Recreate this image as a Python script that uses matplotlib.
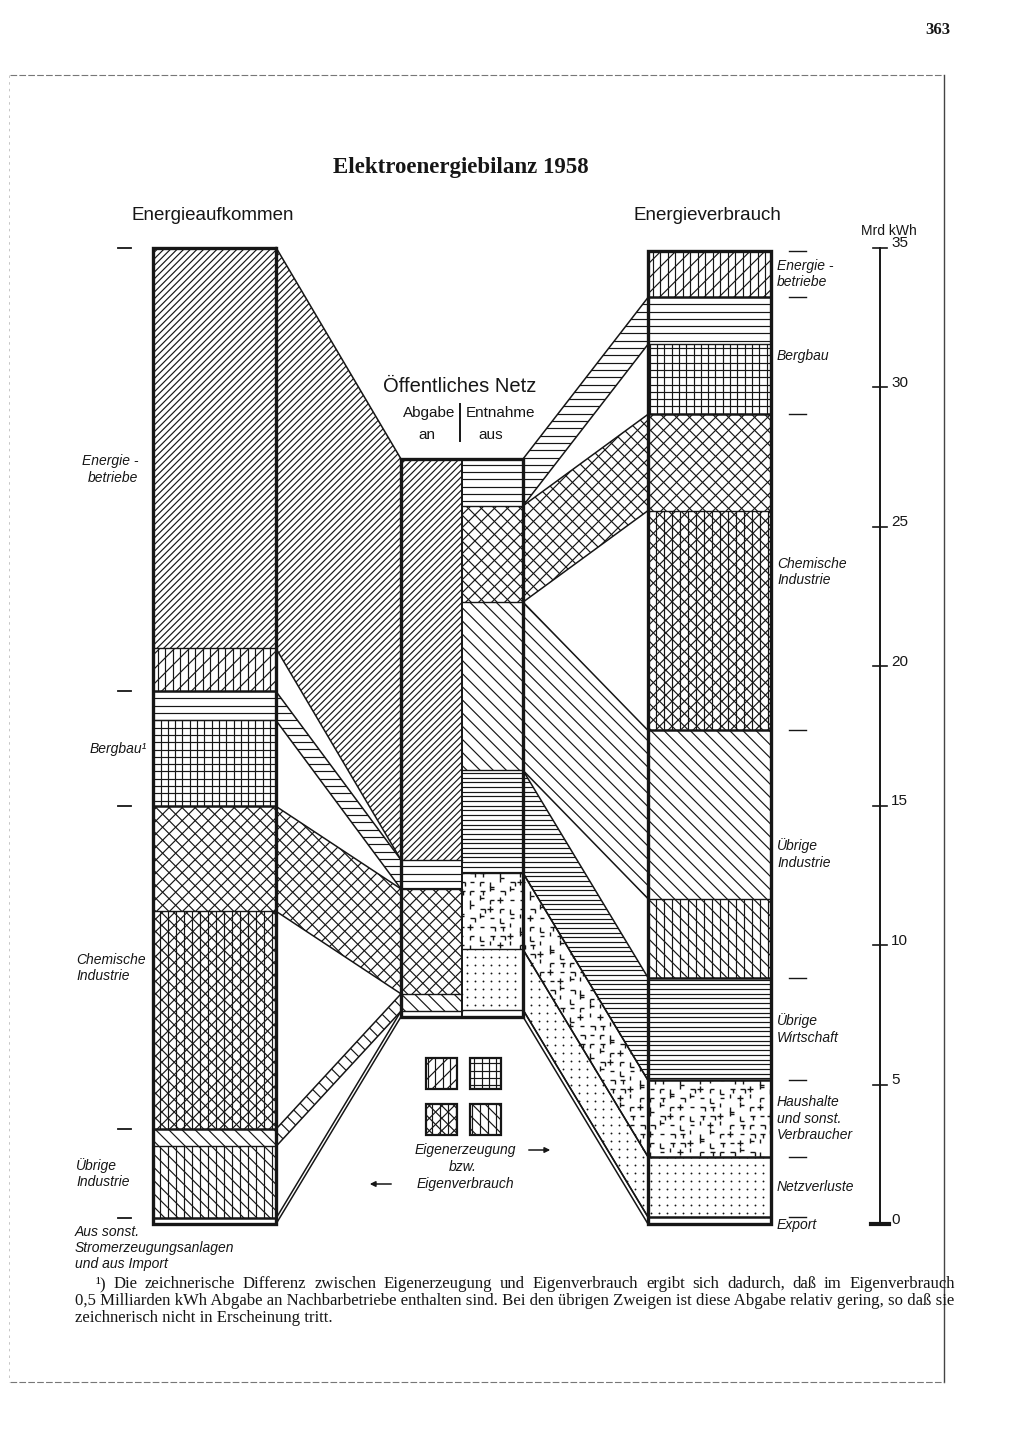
import numpy as np
import matplotlib
matplotlib.use("Agg")
import matplotlib.pyplot as plt
from matplotlib import font_manager
from matplotlib.patches import Polygon, Rectangle
from matplotlib.collections import LineCollection

quellen = ["Energiebetriebe", "Bergbau", "Chemische Industrie",
           "Übrige Industrie", "Sonstige/Import"]
abgabe = [14.37, 1.04, 3.76, 0.62, 0.20]          # ans öffentliche Netz
eigenerzeugung = [1.54, 3.08, 7.81, 2.58, 0.0]

verbraucher = ["Energiebetriebe", "Bergbau", "Chemische Industrie",
               "Übrige Industrie", "Übrige Wirtschaft", "Haushalte",
               "Netzverluste", "Export"]
entnahme = [0.0, 1.68, 3.45, 6.03, 3.68, 2.74, 2.16, 0.25]   # aus dem Netz
eigenverbrauch = [1.68, 2.51, 7.88, 2.83, 0.0, 0.0, 0.0, 0.0]

skala = [0, 5, 10, 15, 20, 25, 30, 35]

links_text = ["Energie -\nbetriebe", "Bergbau¹", "Chemische\nIndustrie",
              "Übrige\nIndustrie", "Aus sonst.\nStromerzeugungsanlagen\nund aus Import"]
rechts_text = ["Energie -\nbetriebe", "Bergbau", "Chemische\nIndustrie",
               "Übrige\nIndustrie", "Übrige\nWirtschaft",
               "Haushalte\nund sonst.\nVerbraucher", "Netzverluste", "Export"]

fussnote = [
    "¹) Die zeichnerische Differenz zwischen Eigenerzeugung und Eigenverbrauch ergibt sich dadurch, daß im Eigenverbrauch",
    "0,5 Milliarden kWh Abgabe an Nachbarbetriebe enthalten sind. Bei den übrigen Zweigen ist diese Abgabe relativ gering, so daß sie",
    "zeichnerisch nicht in Erscheinung tritt.",
]

# ---- Stil / Layout ----
muster_abgabe = ["energie", "bergbau", "chemie", "industrie", None]
muster_eigen_q = ["energie_e", "bergbau_e", "chemie_e", "industrie_e", None]
muster_entnahme = [None, "bergbau", "chemie", "industrie", "wirtschaft",
                   "haushalt", "punkte", None]
muster_eigen_v = ["energie_e", "bergbau_e", "chemie_e", "industrie_e",
                  None, None, None, None]

# (Winkel der Linien, Abstand senkrecht in px)
HATCH = {
    "energie": [(45, 4.7)],
    "energie_e": [(45, 10.5), (90, 7.5)],
    "bergbau": [(0, 7.3)],
    "bergbau_e": [(0, 7.3), (90, 7.3)],
    "chemie": [(45, 9.2), (-45, 9.2)],
    "chemie_e": [(45, 8.8), (-45, 8.8), (90, 8.0)],
    "industrie": [(-45, 9.3)],
    "industrie_e": [(-45, 9.3), (90, 8.0)],
    "wirtschaft": [(0, 4.7)],
}

INK = "#161616"
W, H = 1024, 1448
Y0 = 1224.0          # Pixelzeile des Nullpunkts
K = 27.9             # px je Mrd kWh
L0, L1 = 153, 276
M0, MM, M1 = 401, 462, 523
R0, R1 = 648, 771
NETZ_OBEN = 27.42

names = {f.name for f in font_manager.fontManager.ttflist}
SANS = "Liberation Sans" if "Liberation Sans" in names else "DejaVu Sans"
SERIF = "Liberation Serif" if "Liberation Serif" in names else "DejaVu Serif"


def ty(row):
    return (Y0 - row) / K


fig = plt.figure(figsize=(W / 100, H / 100), dpi=100)
fig.patch.set_facecolor("white")
ax = fig.add_axes([0, 0, 1, 1])
ax.set_xlim(0, W)
ax.set_ylim(ty(H), ty(0))
ax.axis("off")


def fill_pattern(patch, name, z):
    xy = patch.get_xy()
    q = np.column_stack([xy[:, 0], xy[:, 1] * K])
    if name in HATCH:
        segs = []
        for ang, sp in HATCH[name]:
            a = np.radians(ang)
            d = np.array([np.cos(a), np.sin(a)])
            n = np.array([-np.sin(a), np.cos(a)])
            pn, pd = q @ n, q @ d
            for c in np.arange(np.floor(pn.min() / sp) * sp, pn.max() + sp, sp):
                p0 = c * n + (pd.min() - 3) * d
                p1 = c * n + (pd.max() + 3) * d
                segs.append([(p0[0], p0[1] / K), (p1[0], p1[1] / K)])
        lc = LineCollection(segs, colors=INK, linewidths=0.85, zorder=z + 0.1)
        ax.add_collection(lc)
        lc.set_clip_path(patch)
    elif name == "punkte":
        xs = np.arange(np.floor(q[:, 0].min() / 8) * 8, q[:, 0].max() + 8, 8)
        ys = np.arange(np.floor(q[:, 1].min() / 8) * 8, q[:, 1].max() + 8, 8)
        gx, gy = np.meshgrid(xs + 3, ys + 3)
        sc = ax.scatter(gx.ravel(), gy.ravel() / K, s=1.8, color=INK,
                        linewidths=0, zorder=z + 0.1)
        sc.set_clip_path(patch)
    elif name == "haushalt":
        formen = [
            [((0, 0), (5, 0)), ((5, 0), (5, -4))],
            [((0, 0), (0, -5)), ((0, -5), (4, -5))],
            [((-3, 0), (3, 0)), ((0, 3), (0, -3))],
            [((0, 0), (5, 0)), ((2.5, 0), (2.5, -4))],
            [((0, 0), (0, 5)), ((0, 2.5), (4, 2.5))],
            [((0, 0), (4, 0))],
            [((0, 0), (0, 4))],
            [((0, 0), (4, 0)), ((0, 0), (0, -4))],
        ]
        sx, sy = 10.0, 9.0
        segs = []
        for i, x in enumerate(np.arange(np.floor(q[:, 0].min() / sx) * sx, q[:, 0].max() + sx, sx)):
            for j, y in enumerate(np.arange(np.floor(q[:, 1].min() / sy) * sy, q[:, 1].max() + sy, sy)):
                f = formen[(3 * i + 5 * j + (i * j) % 3) % len(formen)]
                for (a0, a1), (b0, b1) in f:
                    segs.append([(x + a0, (y + a1) / K), (x + b0, (y + b1) / K)])
        lc = LineCollection(segs, colors=INK, linewidths=1.0, zorder=z + 0.1)
        ax.add_collection(lc)
        lc.set_clip_path(patch)


def region(xy, name, z):
    patch = Polygon(xy, closed=True, facecolor="white", edgecolor="none", zorder=z)
    ax.add_patch(patch)
    if name:
        fill_pattern(patch, name, z)
    return patch


def link(xa, ta, ba, xb, tb, bb, name):
    region([(xa, ta), (xb, tb), (xb, bb), (xa, ba)], name, 1)
    ax.plot([xa, xb], [ta, tb], color=INK, lw=1.1, zorder=1.5)
    ax.plot([xa, xb], [ba, bb], color=INK, lw=1.1, zorder=1.5)


def block(x0, x1, b, t, name, lw_bottom):
    region([(x0, b), (x1, b), (x1, t), (x0, t)], name, 2)
    ax.plot([x0, x1], [b, b], color=INK, lw=lw_bottom, zorder=3)


# ---- linke Säule: Energieaufkommen ----
total_l = sum(abgabe) + sum(eigenerzeugung)
cur = total_l
links_ab = []
gruppen_l = []
for i in range(len(quellen)):
    top = cur
    links_ab.append((cur, cur - abgabe[i]))
    block(L0, L1, cur - abgabe[i], cur, muster_abgabe[i],
          1.0 if eigenerzeugung[i] > 0 else 1.8)
    cur -= abgabe[i]
    if eigenerzeugung[i] > 0:
        block(L0, L1, cur - eigenerzeugung[i], cur, muster_eigen_q[i], 1.8)
        cur -= eigenerzeugung[i]
    gruppen_l.append((top, cur))
ax.add_patch(Rectangle((L0, 0), L1 - L0, total_l, fill=False, ec=INK, lw=2.4, zorder=4))

# ---- mittlere Säule: öffentliches Netz ----
cur = NETZ_OBEN
for i in range(len(quellen)):
    t, b = cur, cur - abgabe[i]
    block(M0, MM, b, t, muster_abgabe[i], 1.0)
    link(L1, links_ab[i][0], links_ab[i][1], M0, t, b, muster_abgabe[i])
    cur = b
netz_unten_l = cur

cur = NETZ_OBEN
netz_ent = []
for i in range(len(verbraucher)):
    if entnahme[i] <= 0:
        netz_ent.append(None)
        continue
    t, b = cur, cur - entnahme[i]
    block(MM, M1, b, t, muster_entnahme[i], 1.0)
    netz_ent.append((t, b))
    cur = b
netz_unten = min(cur, netz_unten_l)
ax.add_patch(Rectangle((M0, netz_unten), M1 - M0, NETZ_OBEN - netz_unten,
                       fill=False, ec=INK, lw=2.4, zorder=4))
ax.plot([MM, MM], [netz_unten, NETZ_OBEN], color=INK, lw=1.4, zorder=4)

# ---- rechte Säule: Energieverbrauch ----
total_r = sum(entnahme) + sum(eigenverbrauch)
cur = total_r
gruppen_r = []
for i in range(len(verbraucher)):
    top = cur
    if entnahme[i] > 0:
        t, b = cur, cur - entnahme[i]
        block(R0, R1, b, t, muster_entnahme[i], 1.0 if eigenverbrauch[i] > 0 else 1.8)
        link(M1, netz_ent[i][0], netz_ent[i][1], R0, t, b, muster_entnahme[i])
        cur = b
    if eigenverbrauch[i] > 0:
        block(R0, R1, cur - eigenverbrauch[i], cur, muster_eigen_v[i], 1.8)
        cur -= eigenverbrauch[i]
    gruppen_r.append((top, cur))
ax.add_patch(Rectangle((R0, 0), R1 - R0, total_r, fill=False, ec=INK, lw=2.4, zorder=4))

# ---- Grenzstriche und Beschriftungen ----
for t, b in gruppen_l:
    ax.plot([118, 131], [t, t], color=INK, lw=1.3)
for t, b in gruppen_r:
    ax.plot([789, 806], [t, t], color=INK, lw=1.0)

lab = dict(family=SANS, style="italic", fontsize=10, color=INK, linespacing=1.2)
for (t, b), txt, x in zip(gruppen_l[1:-1], links_text[1:-1], [90, 76, 76]):
    ax.text(x, (t + b) / 2, txt, ha="left", va="center", **lab)
t, b = gruppen_l[0]
ax.text(138, (t + b) / 2, links_text[0], ha="right", va="center",
        multialignment="right", **lab)
ax.text(75, gruppen_l[-1][1] - 0.02, links_text[-1], ha="left", va="top", **lab)
for k, ((t, b), txt) in enumerate(zip(gruppen_r, rechts_text)):
    yy = (t + b) / 2 if k < len(rechts_text) - 1 else b - 0.05
    ax.text(777, yy, txt, ha="left", va="center", **lab)

# Maßstab
ax.plot([880, 880], [0, skala[-1]], color=INK, lw=1.4)
for v in skala:
    if v == 0:
        ax.plot([871, 889], [v, v], color=INK, lw=3.0)
    else:
        ax.plot([873, 887], [v, v], color=INK, lw=1.2)
    ax.text(891, v + 0.15, str(v), family=SANS, fontsize=11, va="center", color=INK)
ax.text(889, ty(231), "Mrd kWh", family=SANS, fontsize=10, ha="center", va="center", color=INK)

# Überschriften
ax.text(461, ty(167), "Elektroenergiebilanz 1958", family=SERIF, weight="bold",
        fontsize=16.5, ha="center", va="center", color=INK)
ax.text(213, ty(216), "Energieaufkommen", family=SANS, fontsize=13.5,
        ha="center", va="center", color=INK)
ax.text(707, ty(216), "Energieverbrauch", family=SANS, fontsize=13.5,
        ha="center", va="center", color=INK)
ax.text(460, ty(386), "Öffentliches Netz", family=SANS, fontsize=14.5,
        ha="center", va="center", color=INK)
ax.text(455, ty(413), "Abgabe", family=SANS, fontsize=11, ha="right", va="center", color=INK)
ax.text(466, ty(413), "Entnahme", family=SANS, fontsize=11, ha="left", va="center", color=INK)
ax.text(427, ty(435), "an", family=SANS, fontsize=11, ha="center", va="center", color=INK)
ax.text(491, ty(435), "aus", family=SANS, fontsize=11, ha="center", va="center", color=INK)
ax.plot([460, 460], [ty(404), ty(441)], color=INK, lw=1.4)

# Legende Eigenerzeugung / Eigenverbrauch
for (cx, cy), name in zip([(441, 1073), (485, 1073), (441, 1119), (485, 1119)],
                          ["energie_e", "bergbau_e", "chemie_e", "industrie_e"]):
    s = 31
    xy = [(cx - s / 2, ty(cy + s / 2)), (cx + s / 2, ty(cy + s / 2)),
          (cx + s / 2, ty(cy - s / 2)), (cx - s / 2, ty(cy - s / 2))]
    region(xy, name, 2)
    ax.add_patch(Polygon(xy, closed=True, fill=False, ec=INK, lw=1.6, zorder=4))
ax.text(465, ty(1150), "Eigenerzeugung", ha="center", va="center", **lab)
ax.text(463, ty(1167), "bzw.", ha="center", va="center", **lab)
ax.text(465, ty(1184), "Eigenverbrauch", ha="center", va="center", **lab)
ax.annotate("", xy=(553, ty(1150)), xytext=(526, ty(1150)),
            arrowprops=dict(arrowstyle="-|>", color=INK, lw=1.1, mutation_scale=8))
ax.annotate("", xy=(367, ty(1184)), xytext=(394, ty(1184)),
            arrowprops=dict(arrowstyle="-|>", color=INK, lw=1.1, mutation_scale=8))

# Seitenrahmen und Seitenzahl
ax.text(950, ty(30), "363", family=SERIF, weight="bold", fontsize=12,
        ha="right", va="center", color=INK)
ax.plot([10, 944], [ty(75), ty(75)], color="#777777", lw=0.8, ls=(0, (6, 2)))
ax.plot([944, 944], [ty(75), ty(1382)], color="#444444", lw=1.0)
ax.plot([10, 944], [ty(1382), ty(1382)], color="#777777", lw=0.8, ls=(0, (6, 2)))
ax.plot([9, 9], [ty(75), ty(1382)], color="#bbbbbb", lw=0.6, ls=(0, (3, 5)))

# Fußnote im Blocksatz
r = fig.canvas.get_renderer()
probe = ax.text(0, 0, fussnote[1], family=SERIF, fontsize=10)
fs = 10 * 880 / probe.get_window_extent(r).width
probe.remove()
ziel = [(95, 955), (75, 955), (75, None)]
for k, (txt, (x0, x1)) in enumerate(zip(fussnote, ziel)):
    yy = ty(1284 + 17 * k)
    if x1 is None or k == 1:
        ax.text(x0, yy, txt, family=SERIF, fontsize=fs, ha="left", va="center", color=INK)
        continue
    woerter = txt.split(" ")
    objs = [ax.text(0, yy, w_, family=SERIF, fontsize=fs, ha="left", va="center",
                    color=INK) for w_ in woerter]
    breiten = [o.get_window_extent(r).width for o in objs]
    luecke = (x1 - x0 - sum(breiten)) / (len(woerter) - 1)
    x = x0
    for o, bw in zip(objs, breiten):
        o.set_x(x)
        x += bw + luecke

fig.savefig("out.png", dpi=100, facecolor="white")
